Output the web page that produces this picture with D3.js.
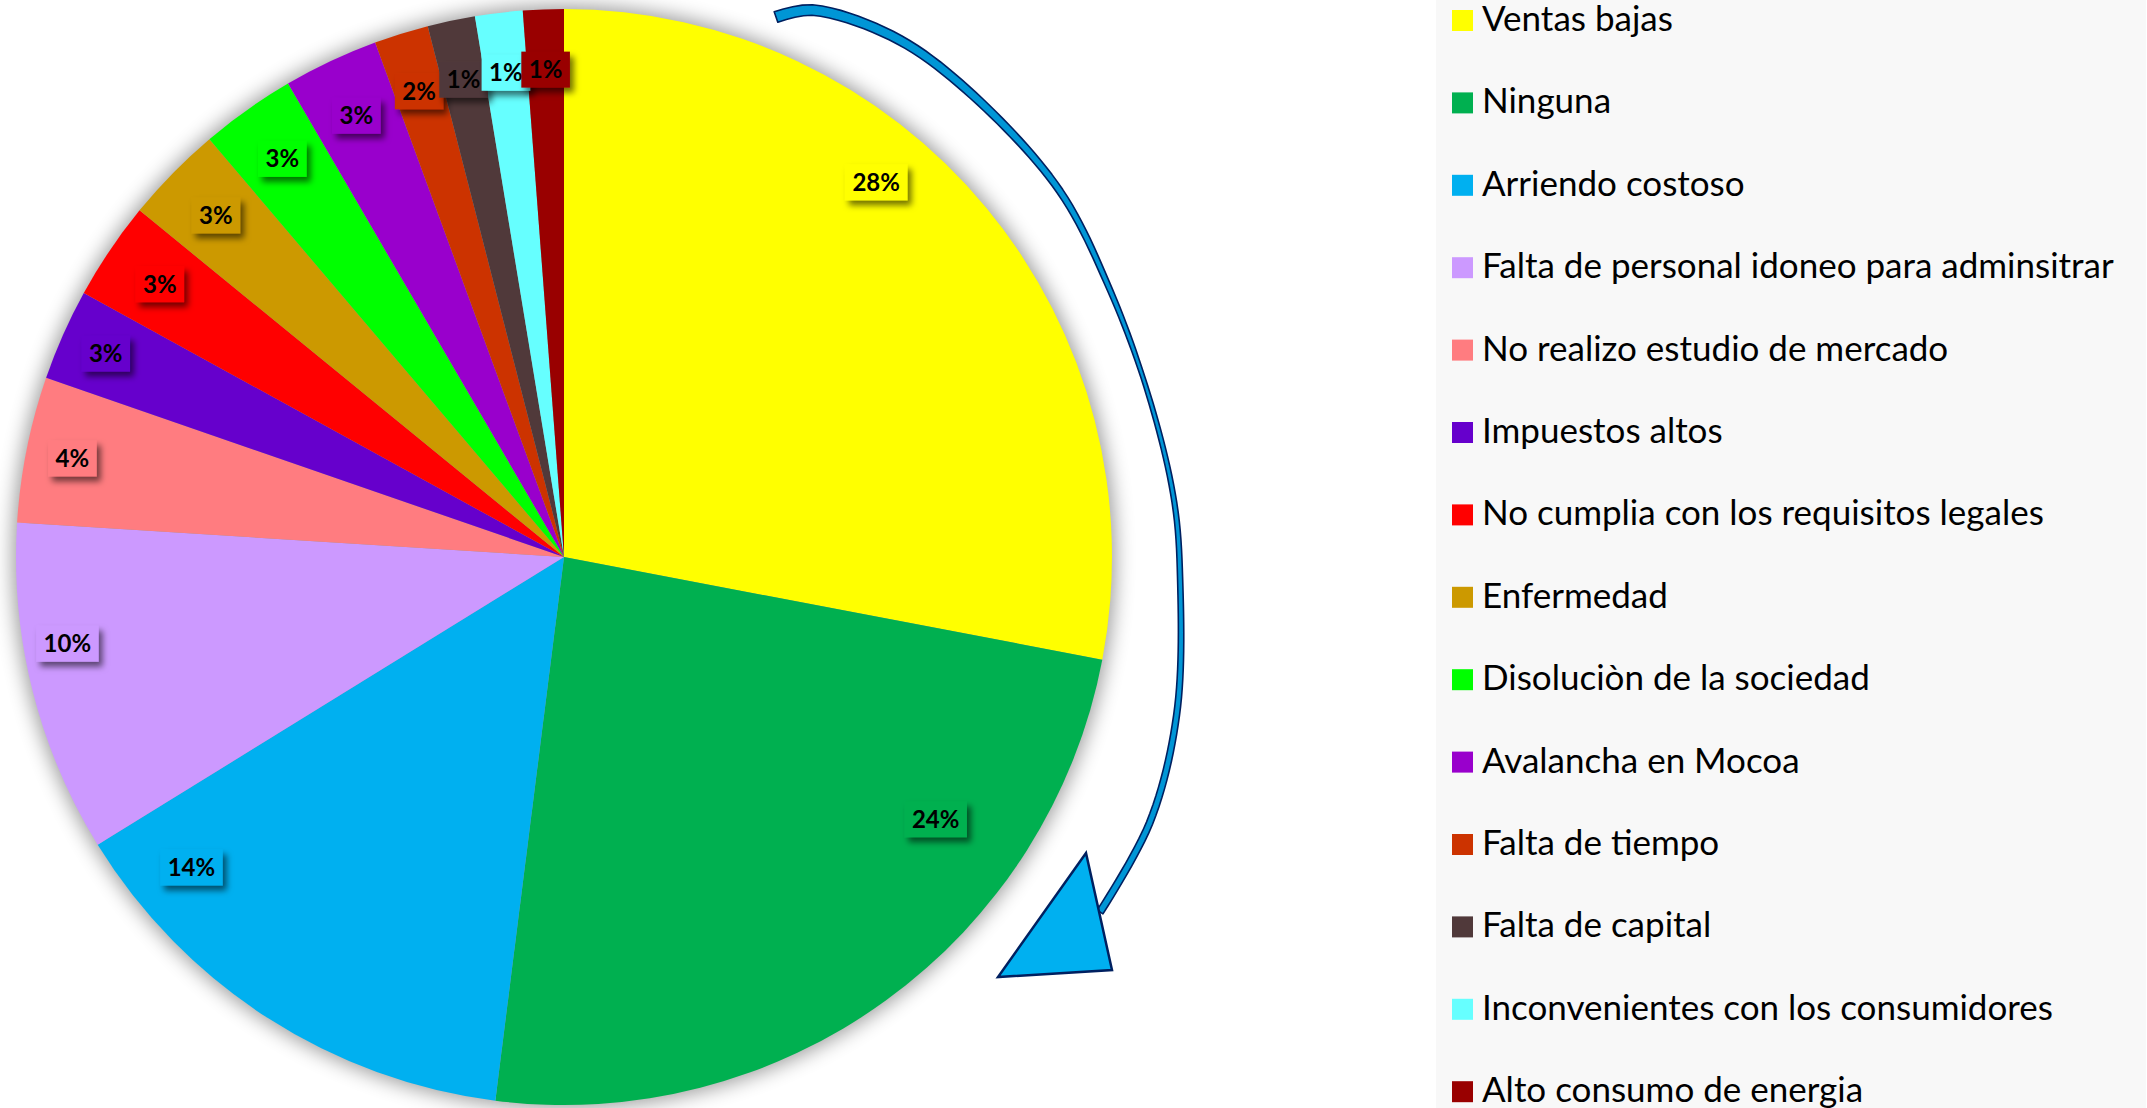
<!DOCTYPE html>
<html>
<head>
  <meta charset="UTF-8">
  <style>
    body { margin: 0; background: #fff; }
    svg { display: block; }
  </style>
  <title>Causas de cierre</title>
</head>
<body>
<svg></svg>
<script src="https://d3js.org/d3.v7.min.js"></script>
<script>

// data (percent shares)
const categories = [
  "Ventas bajas", "Ninguna", "Arriendo costoso",
  "Falta de personal idoneo para adminsitrar", "No realizo estudio de mercado",
  "Impuestos altos", "No cumplia con los requisitos legales", "Enfermedad",
  "Disoluciòn de la sociedad", "Avalancha en Mocoa", "Falta de tiempo",
  "Falta de capital", "Inconvenientes con los consumidores", "Alto consumo de energia"
];
const values = [28, 24, 14.2, 9.8, 4.3, 2.7, 2.9, 2.9, 2.8, 2.8, 1.6, 1.4, 1.4, 1.2];
const colors = [
  "#FFFF00", "#00B050", "#00B0F0", "#CC99FF", "#FF7C80", "#6600CC", "#FF0000",
  "#CC9900", "#00FF00", "#9900CC", "#CC3300", "#50393A", "#66FFFF", "#990000"
];

let width = 2147, height = 1108;
let cx = 564, cy = 557, R = 548;

let svg = d3.select("svg")
    .attr("width", width)
    .attr("height", height);

let defs = svg.append("defs");
defs.append("filter").attr("id", "glow")
    .attr("x", "-20%").attr("y", "-20%").attr("width", "140%").attr("height", "140%")
  .append("feGaussianBlur").attr("stdDeviation", 10);
defs.append("filter").attr("id", "boxShadow")
    .attr("x", "-30%").attr("y", "-30%").attr("width", "170%").attr("height", "180%")
  .append("feDropShadow")
    .attr("dx", 4).attr("dy", 5).attr("stdDeviation", 3)
    .attr("flood-color", "#000").attr("flood-opacity", 0.55);

// legend panel
svg.append("rect")
    .attr("x", 1436).attr("y", 0)
    .attr("width", 710).attr("height", height)
    .attr("fill", "#f8f8f8");

let color = d3.scaleOrdinal().domain(categories).range(colors);
let total = d3.sum(values);
let rows = categories.map((c, i) => ({name: c, value: values[i]}));

let pie = d3.pie().sort(null).value(d => d.value);
let arcs = pie(rows);
let arc = d3.arc().innerRadius(0).outerRadius(R);

let g = svg.append("g").attr("transform", `translate(${cx},${cy})`);

// soft shadow around the pie
g.append("circle")
    .attr("r", R + 3)
    .attr("fill", "#000")
    .attr("opacity", 0.4)
    .attr("filter", "url(#glow)");

g.selectAll("path.slice")
    .data(arcs)
  .enter()
    .append("path")
    .attr("class", "slice")
    .attr("d", arc)
    .attr("fill", d => color(d.data.name));

// some labels were dragged in the original: [angle in degrees or null for mid, radius factor]
let labelPlacement = {
  "Ventas bajas": [39.8, 0.89],
  "Ninguna": [125.2, 0.83],
  "Arriendo costoso": [230.2, 0.885],
  "Falta de personal idoneo para adminsitrar": [260.1, 0.92],
  "No realizo estudio de mercado": [null, 0.915],
  "Impuestos altos": [null, 0.915]
};

let labels = g.selectAll("g.lbl")
    .data(arcs)
  .enter()
    .append("g")
    .attr("class", "lbl")
    .attr("transform", d => {
      let p = labelPlacement[d.data.name] || [null, 0.89];
      let a = p[0] != null ? p[0] * Math.PI / 180 : (d.startAngle + d.endAngle) / 2;
      let r = p[1] * R;
      return `translate(${r * Math.sin(a)},${-r * Math.cos(a)})`;
    });

labels.append("rect")
    .attr("fill", d => color(d.data.name))
    .attr("filter", "url(#boxShadow)");

labels.append("text")
    .attr("text-anchor", "middle")
    .attr("dy", "0.36em")
    .attr("font-family", "Lato, 'Open Sans', sans-serif")
    .attr("font-weight", "bold")
    .attr("font-size", 24)
    .attr("fill", "#000")
    .text(d => Math.round(d.data.value / total * 100) + "%");

labels.each(function() {
  let t = d3.select(this).select("text").node();
  let w = t.getComputedTextLength() + 15, h = 36;
  d3.select(this).select("rect")
    .attr("x", -w / 2).attr("y", -h / 2)
    .attr("width", w).attr("height", h);
});

// curved arrow (decoration)
let arrowPts = [
  [776, 17], [812, 10], [890, 35], [958, 82], [1057, 187], [1110, 290],
  [1150, 400], [1174, 500], [1180, 575], [1177, 712], [1150, 822], [1100, 912]
];
let tmp = svg.append("path")
    .attr("d", d3.line().curve(d3.curveCatmullRom)(arrowPts))
    .attr("fill", "none");
let pathNode = tmp.node();
let L = pathNode.getTotalLength();
let n = 120, left = [], right = [];
let widthAt = t => t < 0.5 ? 11 - 14 * t : 4 + 6 * (t - 0.5);
for (let i = 0; i <= n; i++) {
  let s = L * i / n;
  let p = pathNode.getPointAtLength(s);
  let q = pathNode.getPointAtLength(Math.min(L, s + 1));
  let q0 = pathNode.getPointAtLength(Math.max(0, s - 1));
  let dx = q.x - q0.x, dy = q.y - q0.y, len = Math.hypot(dx, dy) || 1;
  let nx = -dy / len, ny = dx / len, w = widthAt(i / n) / 2;
  left.push([p.x + nx * w, p.y + ny * w]);
  right.push([p.x - nx * w, p.y - ny * w]);
}
tmp.remove();
svg.append("path")
    .attr("d", d3.line()(left.concat(right.reverse())) + "Z")
    .attr("fill", "#0096D6")
    .attr("stroke", "#002060")
    .attr("stroke-width", 1.6)
    .attr("stroke-linejoin", "round");
svg.append("path")
    .attr("d", d3.line()([[1086, 853], [1112, 970], [998, 977]]) + "Z")
    .attr("fill", "#00B0F0")
    .attr("stroke", "#002060")
    .attr("stroke-width", 2.5)
    .attr("stroke-linejoin", "miter");

// legend
let legend = svg.append("g").attr("transform", "translate(1452,10)");
let item = legend.selectAll("g")
    .data(categories)
  .enter()
    .append("g")
    .attr("transform", (d, i) => `translate(0,${i * 82.4})`);

item.append("rect")
    .attr("width", 21).attr("height", 21)
    .attr("fill", d => color(d));

let legendText = item.append("text")
    .attr("x", 30)
    .attr("y", 21)
    .attr("font-family", "Lato, 'Open Sans', sans-serif")
    .attr("font-size", 34)
    .attr("fill", "#000")
    .text(d => d);

// fit the longest entry to the width it has in the original
let longest = d3.max(legendText.nodes(), t => t.getComputedTextLength());
legendText.attr("font-size", 34 * 632 / longest);

</script>
</body>
</html>
